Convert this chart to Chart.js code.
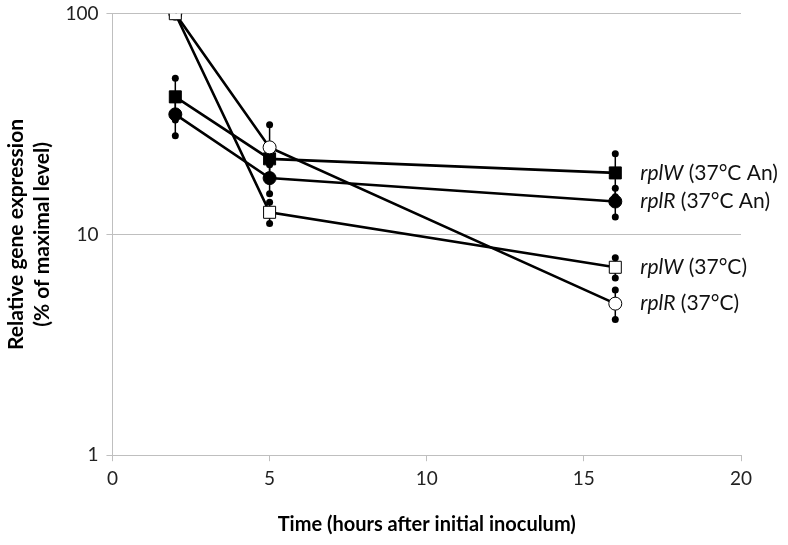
<!DOCTYPE html>
<html>
<head>
<meta charset="utf-8">
<script src="https://cdn.jsdelivr.net/npm/chart.js@4"></script>
<style>
  html, body { margin: 0; padding: 0; background: #fff; }
  #wrap { width: 788px; height: 545px; }
</style>
</head>
<body>
<div id="wrap"><canvas id="grafico" width="788" height="545"></canvas></div>
<script>
// tempos de coleta (horas)
const tempos = [2, 5, 16];

// valores medios (% do nivel maximo) e barras de erro
const rplW_An = [42, 22, 19];
const rplW_An_err = [9, 1, 4.2];
const rplR_An = [35, 18, 14.1];
const rplR_An_err = [7, 2.7, 2.1];
const rplW_37 = [100, 12.6, 7.1];
const rplW_37_err = [0, 1.4, 0.75];
const rplR_37 = [100, 24.8, 4.86];
const rplR_37_err = [0, 6.6, 0.74];

const nomesGene = ['rplW', 'rplR', 'rplW', 'rplR'];
const condicoes = [' (37°C An)', ' (37°C An)', ' (37°C)', ' (37°C)'];

const yTicks = [1, 10, 100];
const xTicks = [0, 5, 10, 15, 20];

const fonte = 'Lato, "Open Sans", sans-serif';

function serie(vals, estilo, cheio, raio, ordem) {
    return {
        data: tempos.map((t, i) => ({ x: t, y: vals[i] })),
        showLine: true,
        borderColor: '#000',
        borderWidth: 2.6,
        pointStyle: estilo,
        pointRadius: raio,
        pointBackgroundColor: cheio ? '#000' : '#fff',
        pointBorderColor: '#000',
        pointBorderWidth: 1,
        order: ordem
    };
}

function barrasErro(vals, errs) {
    const out = [];
    tempos.forEach((t, i) => {
        if (!errs[i]) return;
        out.push({
            data: [{ x: t, y: vals[i] - errs[i] }, { x: t, y: vals[i] + errs[i] }],
            showLine: true,
            borderColor: '#000',
            borderWidth: 1.5,
            pointRadius: 3.5,
            pointBackgroundColor: '#000',
            pointBorderWidth: 0,
            order: 3
        });
    });
    return out;
}

const series = [
    serie(rplW_An, 'rect', true, 8.5, 1),
    serie(rplR_An, 'circle', true, 6.5, 1),
    serie(rplW_37, 'rect', false, 8.5, 0),
    serie(rplR_37, 'circle', false, 6.5, 0)
];

const erros = [].concat(
    barrasErro(rplW_An, rplW_An_err),
    barrasErro(rplR_An, rplR_An_err),
    barrasErro(rplW_37, rplW_37_err),
    barrasErro(rplR_37, rplR_37_err)
);

// rotulos das series a direita do ultimo ponto
const rotulos = {
    id: 'rotulos',
    afterDatasetsDraw(chart) {
        const ctx = chart.ctx;
        ctx.save();
        ctx.fillStyle = '#111';
        ctx.textBaseline = 'middle';
        series.forEach((s, k) => {
            const meta = chart.getDatasetMeta(k);
            const pt = meta.data[meta.data.length - 1];
            let x = pt.x + 25;
            ctx.font = 'italic 21px ' + fonte;
            ctx.fillText(nomesGene[k], x, pt.y);
            x += ctx.measureText(nomesGene[k]).width;
            ctx.font = '21px ' + fonte;
            ctx.fillText(condicoes[k], x, pt.y);
        });
        ctx.restore();
    }
};

new Chart(document.getElementById('grafico'), {
    type: 'scatter',
    data: { datasets: series.concat(erros) },
    options: {
        responsive: false,
        animation: false,
        layout: { padding: { top: 3, right: 47, left: 4, bottom: 8 } },
        plugins: { legend: { display: false }, tooltip: { enabled: false } },
        scales: {
            x: {
                type: 'linear',
                min: 0, max: 20,
                afterBuildTicks: ax => { ax.ticks = xTicks.map(v => ({ value: v })); },
                ticks: { color: '#222', font: { family: fonte, size: 19 }, padding: 6 },
                grid: { drawOnChartArea: false, tickLength: 6, color: '#bfbfbf' },
                border: { color: '#bfbfbf' },
                title: {
                    display: true,
                    text: 'Time (hours after initial inoculum)',
                    color: '#000',
                    font: { family: fonte, size: 20, weight: 'bold' },
                    padding: { top: 17, bottom: 0 }
                }
            },
            y: {
                type: 'logarithmic',
                min: 1, max: 100,
                afterBuildTicks: ax => { ax.ticks = yTicks.map(v => ({ value: v })); },
                ticks: { color: '#222', font: { family: fonte, size: 19, lineHeight: 0.6 }, padding: 8,
                         callback: v => String(v) },
                grid: { color: '#bfbfbf', tickLength: 6 },
                border: { color: '#bfbfbf' },
                title: {
                    display: true,
                    text: ['Relative gene expression', '(% of maximal level)'],
                    color: '#000',
                    font: { family: fonte, size: 21, weight: 'bold', lineHeight: 1.2 },
                    padding: { top: 0, bottom: 3 }
                }
            }
        }
    },
    plugins: [rotulos]
});
</script>
</body>
</html>
